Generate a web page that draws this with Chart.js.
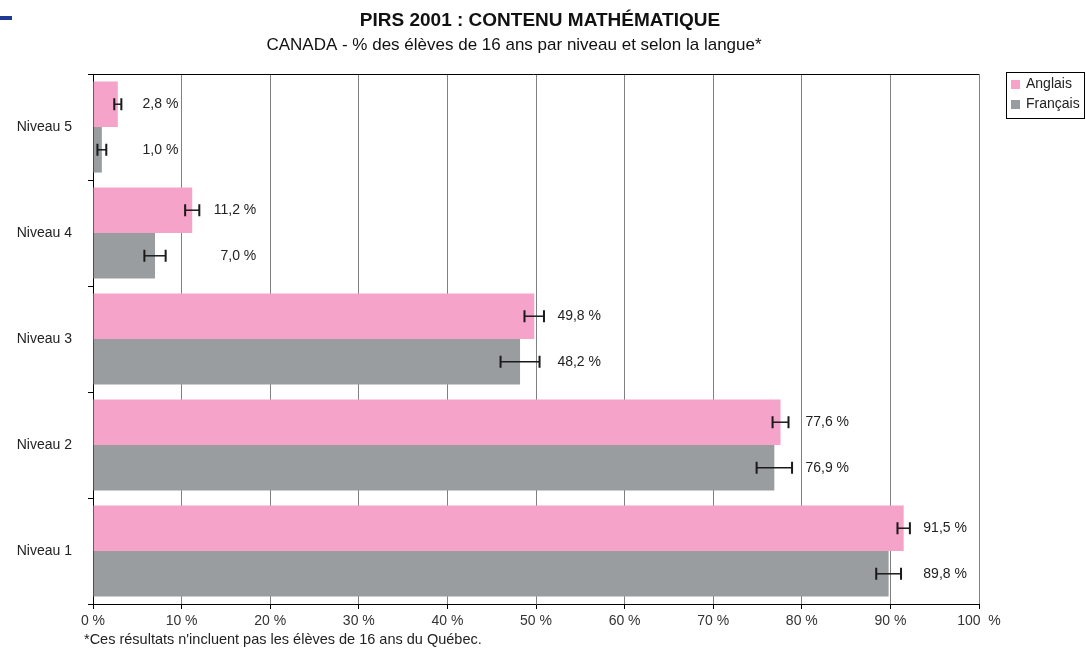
<!DOCTYPE html>
<html>
<head>
<meta charset="utf-8">
<script src="https://cdn.jsdelivr.net/npm/chart.js@4.4.0/dist/chart.umd.min.js"></script>
<style>
  html, body { margin: 0; padding: 0; background: #fff; }
  #wrap { position: relative; width: 1086px; height: 650px; }
</style>
</head>
<body>
<div id="wrap"><canvas id="chart" width="1086" height="650"></canvas></div>
<script>
const categories = ['Niveau 5', 'Niveau 4', 'Niveau 3', 'Niveau 2', 'Niveau 1']
const anglais = [2.8, 11.2, 49.8, 77.6, 91.5]
const francais = [1.0, 7.0, 48.2, 76.9, 89.8]
const anglaisErr = [0.4, 0.8, 1.1, 0.9, 0.7]
const francaisErr = [0.5, 1.2, 2.2, 2.0, 1.4]
const xTicks = [0, 10, 20, 30, 40, 50, 60, 70, 80, 90, 100]

const PINK = '#F5A3C9'
const GREY = '#9A9D9F'
const FONT = '"Liberation Sans", Arial, sans-serif'

const fmt = v => v.toFixed(1).replace('.', ',') + ' %'

// error bars + value labels
const errorBars = {
  id: 'errorBars',
  afterDatasetsDraw(chart) {
    const ctx = chart.ctx
    const x = chart.scales.x
    const errs = [anglaisErr, francaisErr]
    const hiEnds = categories.map((c, i) => Math.max(anglais[i] + anglaisErr[i], francais[i] + francaisErr[i]))
    ctx.save()
    chart.data.datasets.forEach((ds, di) => {
      const meta = chart.getDatasetMeta(di)
      meta.data.forEach((bar, i) => {
        const v = ds.data[i]
        const e = errs[di][i]
        const x0 = x.getPixelForValue(v - e)
        const x1 = x.getPixelForValue(v + e)
        const y = bar.y
        ctx.strokeStyle = '#1a1a1a'
        ctx.lineWidth = 1.5
        ctx.beginPath()
        ctx.moveTo(x0, y); ctx.lineTo(x1, y)
        ctx.stroke()
        ctx.lineWidth = 2
        ctx.beginPath()
        ctx.moveTo(x0, y - 6); ctx.lineTo(x0, y + 6)
        ctx.moveTo(x1, y - 6); ctx.lineTo(x1, y + 6)
        ctx.stroke()

        ctx.fillStyle = '#222'
        ctx.font = '14px ' + FONT
        ctx.textAlign = 'right'
        ctx.textBaseline = 'middle'
        ctx.fillText(fmt(v), x.getPixelForValue(hiEnds[i]) + 57, y)
      })
    })
    ctx.restore()
  }
}

// title, frame, legend, footnote
const decorations = {
  id: 'decorations',
  afterDraw(chart) {
    const ctx = chart.ctx
    const a = chart.chartArea
    ctx.save()
    // top frame line
    ctx.strokeStyle = '#000'
    ctx.lineWidth = 1
    ctx.beginPath()
    ctx.moveTo(a.left - 5, Math.round(a.top) + 0.5)
    ctx.lineTo(a.right, Math.round(a.top) + 0.5)
    ctx.stroke()

    // blue mark
    ctx.fillStyle = '#1f3a93'
    ctx.fillRect(0, 16, 12, 4)

    ctx.fillStyle = '#111'
    ctx.textAlign = 'center'
    ctx.textBaseline = 'middle'
    ctx.font = 'bold 19px ' + FONT
    ctx.fillText('PIRS 2001 : CONTENU MATHÉMATIQUE', 540, 21)
    ctx.font = '17px ' + FONT
    ctx.fillText('CANADA - % des élèves de 16 ans par niveau et selon la langue*', 514, 45)

    // footnote
    ctx.textAlign = 'left'
    ctx.font = '14.5px ' + FONT
    ctx.fillStyle = '#222'
    ctx.fillText("*Ces résultats n'incluent pas les élèves de 16 ans du Québec.", 84, 640)

    // legend
    ctx.strokeStyle = '#000'
    ctx.strokeRect(1006.5, 72.5, 78, 46)
    const items = [['Anglais', PINK], ['Français', GREY]]
    items.forEach((it, k) => {
      const cy = 84 + k * 20
      ctx.fillStyle = it[1]
      ctx.fillRect(1011, cy - 4, 9, 9)
      ctx.fillStyle = '#222'
      ctx.font = '14px ' + FONT
      ctx.fillText(it[0], 1026, cy)
    })
    ctx.restore()
  }
}

new Chart(document.getElementById('chart'), {
  type: 'bar',
  data: {
    labels: categories,
    datasets: [
      { label: 'Anglais', data: anglais, backgroundColor: PINK },
      { label: 'Français', data: francais, backgroundColor: GREY }
    ]
  },
  options: {
    indexAxis: 'y',
    responsive: false,
    animation: false,
    categoryPercentage: 0.86,
    barPercentage: 1,
    layout: { padding: { top: 74, right: 107, bottom: 0, left: 0 } },
    plugins: {
      legend: { display: false },
      title: { display: false },
      tooltip: { enabled: false }
    },
    scales: {
      x: {
        min: 0,
        max: 100,
        afterBuildTicks: s => { s.ticks = xTicks.map(v => ({ value: v })) },
        afterFit: s => { s.height = 46 },
        ticks: {
          color: '#333',
          font: { family: FONT, size: 14 },
          padding: 4,
          maxRotation: 0,
          callback: v => v === 100 ? '100  %' : v + ' %'
        },
        grid: { color: '#808080', lineWidth: 1, tickColor: '#000', tickLength: 5 },
        border: { color: '#000', width: 1 }
      },
      y: {
        afterFit: s => { s.width = 93 },
        ticks: {
          color: '#222',
          font: { family: FONT, size: 14 },
          padding: 16
        },
        grid: { offset: true, drawOnChartArea: false, tickColor: '#000', tickLength: 5 },
        border: { color: '#000', width: 1 }
      }
    }
  },
  plugins: [errorBars, decorations]
})
</script>
</body>
</html>
